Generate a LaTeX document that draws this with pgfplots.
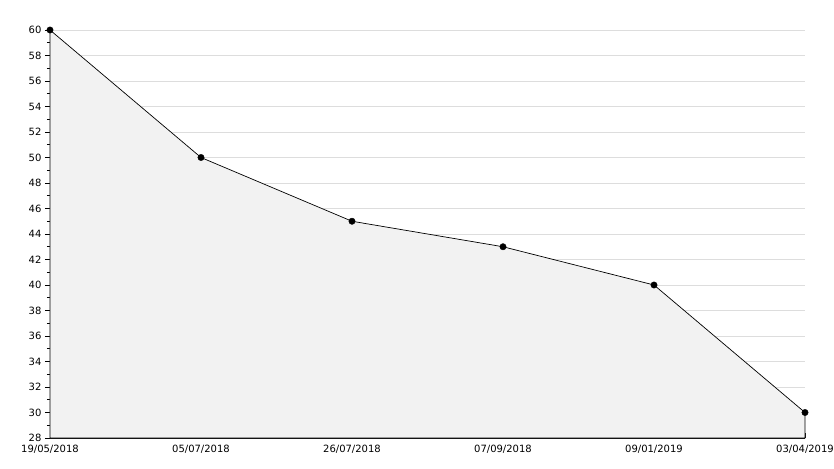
\documentclass[border=0pt]{standalone}
\usepackage{pgfplots}
\pgfplotsset{compat=1.18}
\usepackage{fontspec}
\setmainfont{DejaVu Sans}
\definecolor{areafill}{HTML}{F2F2F2}
\definecolor{gridc}{HTML}{DDDDDD}
\begin{document}
\begin{tikzpicture}
\useasboundingbox (-50pt,-30pt) rectangle (784pt,438pt);
\begin{axis}[
  at={(0pt,0pt)}, anchor=south west,
  scale only axis, width=755pt, height=408pt,
  xmin=0, xmax=5, ymin=28, ymax=60,
  axis x line*=bottom, axis y line*=left,
  axis line style={black, line width=0.8pt},
  xtick={0,1,2,3,4,5},
  xticklabels={19/05/2018,05/07/2018,26/07/2018,07/09/2018,09/01/2019,03/04/2019},
  ytick={28,30,...,60},
  minor ytick={29,31,...,59},
  xtick align=inside, ytick align=outside,
  major tick length=5pt, minor tick length=3pt,
  tick style={black, line width=0.8pt},
  ymajorgrids,
  major grid style={gridc, line width=0.8pt},
  tick label style={font=\fontsize{10}{12}\selectfont},
  x tick label style={yshift=-4pt},
  /pgf/number format/assume math mode=true,
  clip=false,
]
\addplot[fill=areafill, draw=black, line width=0.7pt] coordinates {
  (0,60) (1,50) (2,45) (3,43) (4,40) (5,30)
} \closedcycle;
\addplot[only marks, mark=*, mark size=3.2pt, black] coordinates {
  (0,60) (1,50) (2,45) (3,43) (4,40) (5,30)
};
\end{axis}
\end{tikzpicture}
\end{document}
